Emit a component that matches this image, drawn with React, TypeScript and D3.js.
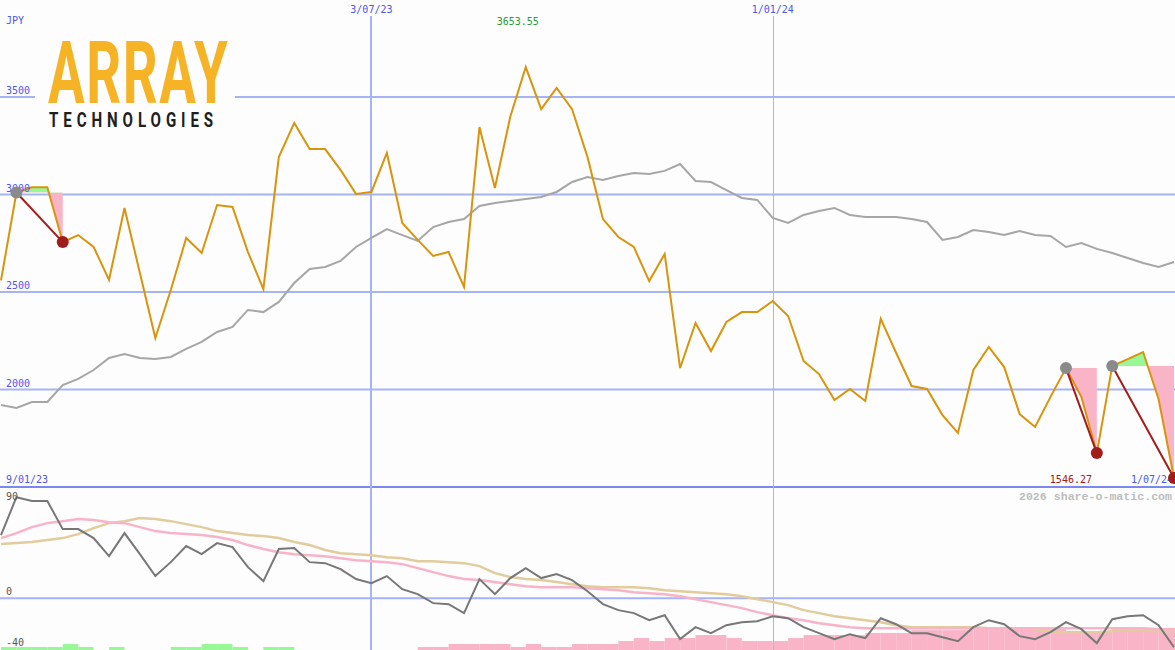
import React from "react";
import * as d3 from "d3";

// ---------- data ----------
const dates: Date[] = d3.timeMonday.range(new Date(2023, 0, 16), new Date(2024, 6, 2));

const price = [
  2560, 3010, 3037, 3037, 2756, 2792, 2731, 2562, 2931, 2597,
  2264, 2510, 2777, 2700, 2946, 2936, 2705, 2515, 3192, 3367,
  3233, 3233, 3126, 3003, 3013, 3213, 2854, 2767, 2685, 2705,
  2526, 3346, 3033, 3400, 3653.55, 3438, 3546, 3438, 3192, 2874,
  2782, 2731, 2556, 2695, 2110, 2341, 2197, 2346, 2397, 2397,
  2454, 2377, 2146, 2079, 1946, 2003, 1941, 2362, 2187, 2018,
  2003, 1869, 1777, 2100, 2218, 2115, 1874, 1808, 1962, 2110,
  1962, 1674, 2121, 2156, 2192, 1951, 1546.27,
];

const movingAvg = [
  1921, 1905, 1936, 1936, 2023, 2054, 2100, 2162, 2182, 2162,
  2156, 2167, 2208, 2244, 2295, 2321, 2408, 2397, 2449, 2546,
  2618, 2628, 2659, 2731, 2777, 2823, 2792, 2762, 2833, 2859,
  2874, 2941, 2956, 2967, 2977, 2987, 3013, 3064, 3090, 3074,
  3095, 3110, 3105, 3121, 3156, 3069, 3064, 3023, 2982, 2972,
  2880, 2854, 2895, 2915, 2931, 2895, 2885, 2885, 2885, 2874,
  2859, 2767, 2782, 2818, 2808, 2792, 2813, 2792, 2787, 2731,
  2751, 2721, 2700, 2674, 2649, 2628, 2654,
];

const oscillator = [
  50.6, 81, 78, 78, 55.4, 55.4, 48.2, 33.7, 52.2, 35.3,
  17.7, 28.9, 41.8, 35.3, 44.2, 41, 24.9, 13.7, 39.4, 40.2,
  28.9, 28.1, 23.3, 15.3, 12, 17.7, 7.2, 3.2, -4, -4.8,
  -12, 15.3, 3.2, 16.1, 24.1, 16.1, 19.3, 14.5, 5.6, -4.8,
  -9.6, -12, -17.7, -13.7, -32.9, -23.3, -28.1, -21.7, -19.3, -18.5,
  -14.5, -16.1, -23.3, -28.1, -32.9, -28.9, -32.1, -16.1, -20.9, -28.1,
  -28.1, -31.3, -34.5, -23.3, -17.7, -20.9, -30.5, -32.9, -27.3, -19.3,
  -24.9, -36.1, -16.9, -14.5, -13.7, -21.7, -39.4,
];

const oscFast = [
  48.2, 52.2, 57.0, 60.2, 61.8, 63.5, 62.7, 61.0, 60.2, 57.0,
  53.8, 52.2, 51.4, 50.6, 49.0, 46.6, 42.6, 39.4, 36.9, 35.3,
  34.5, 33.7, 32.1, 30.5, 29.7, 28.9, 27.3, 24.1, 20.9, 17.7,
  15.3, 14.5, 12.9, 11.2, 9.6, 8.8, 8.8, 8.8, 8.0, 7.2,
  6.4, 4.8, 4.0, 3.2, 1.6, -0.8, -3.2, -5.6, -8.0, -11.2,
  -13.7, -16.1, -17.7, -20.1, -21.7, -23.3, -24.1, -24.1, -24.1, -24.1,
  -24.1, -24.1, -24.1, -24.1, -24.1, -24.1, -24.1, -24.1, -24.1, -24.1,
  -24.1, -24.1, -24.1, -24.1, -24.1, -24.9, -24.9,
];

const oscSlow = [
  43.4, 44.2, 45.0, 46.6, 48.2, 51.4, 56.2, 60.2, 61.8, 64.3,
  63.5, 61.8, 59.4, 57.0, 53.8, 52.2, 50.6, 49.8, 48.2, 45.0,
  42.6, 38.6, 36.1, 35.3, 34.5, 32.9, 32.1, 29.7, 29.7, 28.9,
  28.1, 25.7, 20.1, 16.9, 15.3, 14.5, 12.9, 11.2, 9.6, 8.8,
  8.8, 8.8, 8.0, 6.4, 5.6, 4.8, 4.0, 3.2, 1.6, -0.8,
  -3.2, -5.6, -9.6, -12.0, -14.5, -16.1, -17.7, -19.3, -21.7, -23.3,
  -23.3, -23.3, -23.3, -23.3, -24.1, -24.1, -24.1, -24.9, -26.5, -27.3,
  -27.3, -27.3, -26.5, -25.7, -25.7, -26.5, -26.5,
];

const histogram = [
  2.4, 2.4, 2.4, 2.4, 4.8, 2.4, 0, 2.4, 0, 0,
  0, 2.4, 2.4, 4.8, 4.8, 2.4, 0, 2.4, 2.4, 0,
  0, 0, 0, 0, 0, 0, 0, -2.4, -2.4, -4.8,
  -4.8, -4.8, -4.8, -2.4, -4.8, -2.4, -2.4, -4.8, -4.8, -4.8,
  -7.2, -9.6, -7.2, -9.6, -9.6, -12, -12, -9.6, -7.2, -7.2,
  -7.2, -9.6, -12, -12, -12, -12, -13.7, -13.7, -13.7, -16,
  -16, -16, -16, -17.7, -17.7, -17.7, -17.7, -17.7, -17.7, -15.3,
  -15.3, -15.3, -17.7, -17.7, -17.7, -17.7, -17.7,
];

const signalEntry = [1, 69, 72];
const signalExit = [4, 71, 76];

const priceTicks = [3500, 3000, 2500, 2000];
const oscTicks = [90, 0, -40];
const dateTicks = [new Date(2023, 6, 3), new Date(2024, 0, 1)];
const currency = "JPY";
const startLabel = "9/01/23";
const endLabel = "1/07/24";
const watermark = "2026 share-o-matic.com";
const logoTop = "ARRAY";
const logoBottom = "TECHNOLOGIES";

// ---------- component ----------
const W = 1175;
const H = 650;

export default function App() {
  const x = d3.scaleTime().domain([dates[0], dates[dates.length - 1]]).range([1, 1174]);
  const y = d3.scaleLinear().domain([1500, 3500]).range([487, 97]);
  const yL = d3.scaleLinear().domain([90, -40]).range([486, 648]);
  const step = x(dates[1]) - x(dates[0]);
  const fmtDate = d3.timeFormat("%-d/%m/%y");
  const fmtNum = d3.format(".2f");

  const lineOf = (vals: number[], sc: d3.ScaleLinear<number, number>) =>
    d3.line<number>().x((_, i) => x(dates[i])).y((v) => sc(v))(vals) || "";

  const maxIdx = d3.maxIndex(price);
  const minIdx = d3.minIndex(price);

  const bg = "#fcfdfc";
  const blue = "#4d57ea";
  const grid = "#a6b3f5";
  const mono = "'DejaVu Sans Mono', monospace";

  return (
    <svg
      width={W}
      height={H}
      style={{ position: "absolute", left: 0, top: 0, display: "block" }}
      xmlns="http://www.w3.org/2000/svg"
    >
      <defs>
        {signalEntry.map((s, k) => (
          <React.Fragment key={k}>
            <clipPath id={`above-${k}`}>
              <rect x={0} y={0} width={W} height={y(price[s])} />
            </clipPath>
            <clipPath id={`below-${k}`}>
              <rect x={0} y={y(price[s])} width={W} height={H - y(price[s])} />
            </clipPath>
          </React.Fragment>
        ))}
      </defs>
      <rect x={0} y={0} width={W} height={H} fill={bg} />

      {/* histogram bars */}
      {histogram.map((v, i) =>
        v === 0 ? null : (
          <rect
            key={"h" + i}
            x={x(dates[i])}
            y={650 - (yL(0) - yL(Math.abs(v)))}
            width={Math.min(step, W - x(dates[i]))}
            height={yL(0) - yL(Math.abs(v))}
            fill={v > 0 ? "#98f898" : "#f9b4c8"}
          />
        )
      )}

      {/* gridlines */}
      {priceTicks.map((t) => (
        <line key={"g" + t} x1={0} x2={W} y1={y(t)} y2={y(t)} stroke={grid} strokeWidth={2} />
      ))}
      <line x1={0} x2={W} y1={yL(0)} y2={yL(0)} stroke={grid} strokeWidth={2} />
      <line x1={0} x2={W} y1={y(1500)} y2={y(1500)} stroke="#7a88f0" strokeWidth={2} />
      {dateTicks.map((d, i) => (
        <line
          key={"v" + i}
          x1={Math.round(x(d)) + (i === 0 ? 0 : 0.5)}
          x2={Math.round(x(d)) + (i === 0 ? 0 : 0.5)}
          y1={16}
          y2={H}
          stroke={grid}
          strokeWidth={i === 0 ? 2 : 1}
        />
      ))}

      {/* logo */}
      <rect x={35} y={30} width={200} height={104} fill={bg} />
      <text
        transform="translate(48,103) scale(0.62,1)"
        fontFamily="Roboto, 'Open Sans', sans-serif"
        fontWeight={700}
        fontSize={88}
        fill="#f6b326"
        textLength={290}
        lengthAdjust="spacing"
      >
        {logoTop}
      </text>
      <text
        transform="translate(49,127) scale(0.72,1)"
        fontFamily="Roboto, 'Open Sans', sans-serif"
        fontWeight={700}
        fontSize={21}
        fill="#1e1e1e"
        textLength={228}
        lengthAdjust="spacing"
      >
        {logoBottom}
      </text>

      {/* lower panel lines */}
      <path d={lineOf(oscSlow, yL)} fill="none" stroke="#e2cc9e" strokeWidth={2.5} />
      <path d={lineOf(oscFast, yL)} fill="none" stroke="#f9b3c9" strokeWidth={2.5} />
      <path d={lineOf(oscillator, yL)} fill="none" stroke="#777777" strokeWidth={2} />

      {/* moving average */}
      <path d={lineOf(movingAvg, y)} fill="none" stroke="#a6a6a6" strokeWidth={2} />

      {/* signal fills */}
      {signalEntry.map((s, k) => {
        const e = signalExit[k];
        const idx = d3.range(s, e + 1);
        const area = d3
          .area<number>()
          .x((i) => x(dates[i]))
          .y0(y(price[s]))
          .y1((i) => y(price[i]))(idx) || "";
        return (
          <g key={"f" + k}>
            <path d={area} fill="#98f898" clipPath={`url(#above-${k})`} />
            <path d={area} fill="#f9b4c8" clipPath={`url(#below-${k})`} />
          </g>
        );
      })}

      {/* price line */}
      <path d={lineOf(price, y)} fill="none" stroke="#d8940c" strokeWidth={2} />

      {/* axis labels */}
      <text x={6} y={24} fontFamily={mono} fontSize={10} fill={blue}>{currency}</text>
      {priceTicks.map((t) => (
        <text key={"l" + t} x={6} y={y(t) - 3} fontFamily={mono} fontSize={10} fill={blue}>
          {t}
        </text>
      ))}
      {dateTicks.map((d, i) => (
        <text key={"dl" + i} x={x(d)} y={13} textAnchor="middle" fontFamily={mono} fontSize={10} fill={blue}>
          {fmtDate(d)}
        </text>
      ))}
      <text x={6} y={483} fontFamily={mono} fontSize={10} fill={blue}>{startLabel}</text>
      <text x={1131} y={483} fontFamily={mono} fontSize={10} fill={blue}>{endLabel}</text>
      <text x={x(dates[maxIdx]) - 8} y={25} textAnchor="middle" fontFamily={mono} fontSize={10} fill="#2c9a2c">
        {fmtNum(price[maxIdx])}
      </text>
      <text x={x(dates[minIdx]) - 82} y={483} textAnchor="end" fontFamily={mono} fontSize={10} fill="#a0181c">
        {fmtNum(price[minIdx])}
      </text>
      <text
        x={1172}
        y={500}
        textAnchor="end"
        fontFamily="'Liberation Mono', 'DejaVu Sans Mono', monospace"
        fontWeight={700}
        fontSize={11.6}
        fill="#bdbdbd"
      >
        {watermark}
      </text>
      {oscTicks.map((t) => (
        <text
          key={"o" + t}
          x={6}
          y={t === 90 ? 500 : t === 0 ? yL(0) - 3 : 646}
          fontFamily={mono}
          fontSize={10}
          fill="#555555"
        >
          {t}
        </text>
      ))}

      {/* signal lines & dots */}
      {signalEntry.map((s, k) => {
        const e = signalExit[k];
        return (
          <g key={"s" + k}>
            <line
              x1={x(dates[s])}
              y1={y(price[s])}
              x2={x(dates[e])}
              y2={y(price[e])}
              stroke="#a31c1c"
              strokeWidth={2}
            />
            <circle cx={x(dates[s])} cy={y(price[s])} r={6} fill="#8a8a8a" />
            <circle cx={x(dates[e])} cy={y(price[e])} r={6} fill="#a31c1c" />
          </g>
        );
      })}
    </svg>
  );
}
